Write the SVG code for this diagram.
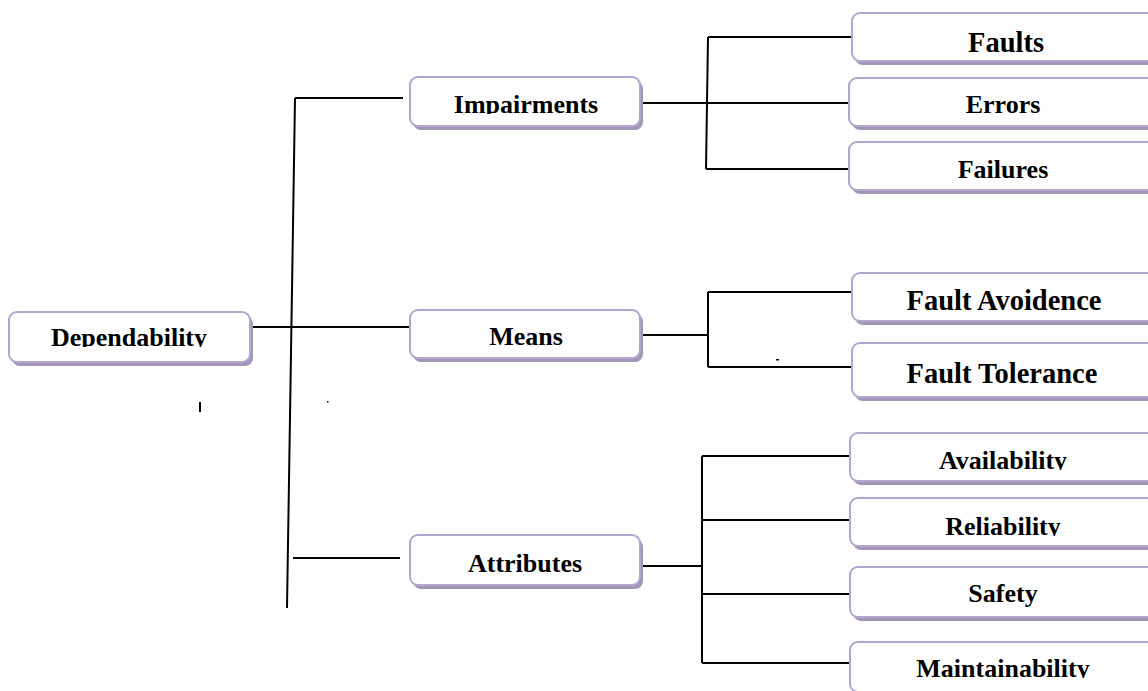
<svg xmlns="http://www.w3.org/2000/svg" width="1148" height="691" viewBox="0 0 1148 691">
<style>
.sh{fill:#a397b5}
.bx{fill:#ffffff;stroke:#b3a5d0;stroke-width:2}
.t{font-family:"Liberation Serif","Times New Roman",serif;font-weight:bold;font-size:26px;fill:#000;text-anchor:middle}
.tb{font-size:28.5px}
.c{fill:none;stroke:#000;stroke-width:2}
</style>
<defs>
<clipPath id="cDep"><rect x="0" y="300" width="260" height="47"/></clipPath>
<clipPath id="cImp"><rect x="400" y="70" width="250" height="44"/></clipPath>
<clipPath id="cAva"><rect x="850" y="430" width="300" height="40"/></clipPath>
<clipPath id="cRel"><rect x="850" y="495" width="300" height="41"/></clipPath>
<clipPath id="cMai"><rect x="850" y="640" width="300" height="38"/></clipPath>
</defs>
<rect width="1148" height="691" fill="#ffffff"/>
<g id="connectors">
<path class="c" d="M295 98 L287 608"/>
<path class="c" d="M295 98 H403"/>
<path class="c" d="M250 327 H410"/>
<path class="c" d="M293 558 H400"/>
<path class="c" d="M640 103 H849 M708 37 L706 169 M708 37 H852 M706 169 H849"/>
<path class="c" d="M640 335 H708 M708 292 V367 M708 292 H852 M708 367 H852"/>
<path class="c" d="M640 566 H702 M702 456 V663 M702 456 H850 M702 520 H850 M702 594 H850 M702 663 H850"/>
<path class="c" d="M200 402 V412" stroke-width="1.5"/>
<rect x="327" y="401" width="1.5" height="1.5" fill="#000"/>
<rect x="776" y="359" width="3" height="1.5" fill="#000"/>
</g>
<g id="n-dependability">
<rect class="sh" x="12" y="316" width="241" height="50" rx="8"/>
<rect class="bx" x="9" y="312" width="241" height="50" rx="8"/>
<text class="t" x="129" y="346" clip-path="url(#cDep)">Dependability</text>
</g>
<g id="n-impairments">
<rect class="sh" x="413" y="81" width="230" height="49" rx="8"/>
<rect class="bx" x="410" y="77" width="230" height="49" rx="8"/>
<text class="t" x="526" y="113" clip-path="url(#cImp)">Impairments</text>
</g>
<g id="n-means">
<rect class="sh" x="413" y="314" width="230" height="48" rx="8"/>
<rect class="bx" x="410" y="310" width="230" height="48" rx="8"/>
<text class="t" x="526" y="345">Means</text>
</g>
<g id="n-attributes">
<rect class="sh" x="413" y="539" width="230" height="50" rx="8"/>
<rect class="bx" x="410" y="535" width="230" height="50" rx="8"/>
<text class="t" x="525" y="572">Attributes</text>
</g>
<g id="n-faults">
<rect class="sh" x="855" y="17" width="310" height="48" rx="8"/>
<rect class="bx" x="852" y="13" width="310" height="48" rx="8"/>
<text class="t tb" x="1006" y="52">Faults</text>
</g>
<g id="n-errors">
<rect class="sh" x="852" y="82" width="310" height="48" rx="8"/>
<rect class="bx" x="849" y="78" width="310" height="48" rx="8"/>
<text class="t" x="1003" y="113">Errors</text>
</g>
<g id="n-failures">
<rect class="sh" x="852" y="146" width="310" height="48" rx="8"/>
<rect class="bx" x="849" y="142" width="310" height="48" rx="8"/>
<text class="t" x="1003" y="178">Failures</text>
</g>
<g id="n-fault-avoidence">
<rect class="sh" x="855" y="277" width="310" height="48" rx="8"/>
<rect class="bx" x="852" y="273" width="310" height="48" rx="8"/>
<text class="t tb" x="1004" y="310">Fault Avoidence</text>
</g>
<g id="n-fault-tolerance">
<rect class="sh" x="855" y="347" width="310" height="54" rx="8"/>
<rect class="bx" x="852" y="343" width="310" height="54" rx="8"/>
<text class="t tb" x="1002" y="383">Fault Tolerance</text>
</g>
<g id="n-availability">
<rect class="sh" x="853" y="437" width="310" height="48" rx="8"/>
<rect class="bx" x="850" y="433" width="310" height="48" rx="8"/>
<text class="t" x="1003" y="469" clip-path="url(#cAva)">Availability</text>
</g>
<g id="n-reliability">
<rect class="sh" x="853" y="502" width="310" height="48" rx="8"/>
<rect class="bx" x="850" y="498" width="310" height="48" rx="8"/>
<text class="t" x="1003" y="535" clip-path="url(#cRel)">Reliability</text>
</g>
<g id="n-safety">
<rect class="sh" x="853" y="571" width="310" height="50" rx="8"/>
<rect class="bx" x="850" y="567" width="310" height="50" rx="8"/>
<text class="t" x="1003" y="602">Safety</text>
</g>
<g id="n-maintainability">
<rect class="sh" x="853" y="646" width="310" height="50" rx="8"/>
<rect class="bx" x="850" y="642" width="310" height="50" rx="8"/>
<text class="t" x="1003" y="677" clip-path="url(#cMai)">Maintainability</text>
</g>
</svg>
